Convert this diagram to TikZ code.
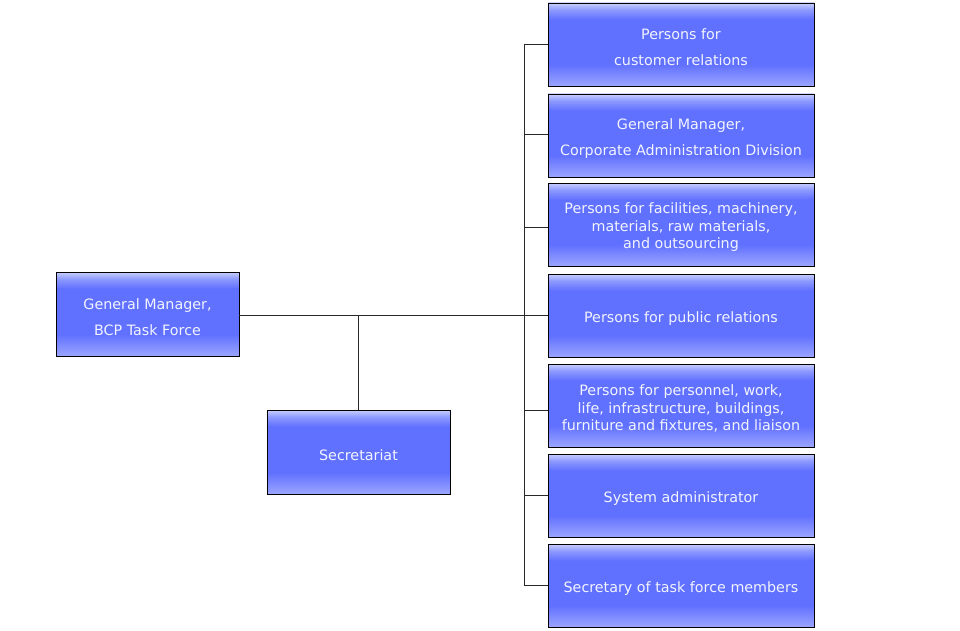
\documentclass[tikz,border=0pt]{standalone}
\usepackage{fontspec}
\setmainfont{DejaVu Sans}
\definecolor{boxmain}{RGB}{96,112,255}
\definecolor{boxtop}{RGB}{200,207,255}
\definecolor{boxbot}{RGB}{155,165,255}
\definecolor{linec}{RGB}{40,40,40}
\pgfdeclareverticalshading{boxshade}{100bp}{
  color(0bp)=(boxbot);
  color(25bp)=(boxbot);
  color(31bp)=(boxbot!55!boxmain);
  color(38bp)=(boxmain);
  color(65bp)=(boxmain);
  color(71bp)=(boxmain!55!boxtop);
  color(75bp)=(boxtop);
  color(100bp)=(boxtop)
}
\begin{document}
\begin{tikzpicture}[x=1pt,y=-1pt,
  orgbox/.style={draw=black, line width=0.8pt, shading=boxshade, rectangle, inner sep=0pt,
    minimum width=266pt, minimum height=83pt},
  lbl/.style={text=white!92!boxmain, font=\fontsize{14.3}{17.5}\selectfont, align=center, yshift=-3pt},
  widelbl/.style={lbl, font=\fontsize{14.3}{26}\selectfont},
  conn/.style={draw=linec, line width=0.7pt}]
\useasboundingbox (0,0) rectangle (960,631);
% right column
\node[orgbox, label={[widelbl]center:Persons for\\customer relations}] (r1) at (681,44.5) {};
\node[orgbox, label={[widelbl]center:General Manager,\\Corporate Administration Division}] (r2) at (681,135.5) {};
\node[orgbox, label={[lbl]center:Persons for facilities, machinery,\\materials, raw materials,\\and outsourcing}] (r3) at (681,224.5) {};
\node[orgbox, label={[lbl]center:Persons for public relations}] (r4) at (681,315.5) {};
\node[orgbox, label={[lbl]center:Persons for personnel, work,\\life, infrastructure, buildings,\\furniture and fixtures, and liaison}] (r5) at (681,405.5) {};
\node[orgbox, label={[lbl]center:System administrator}] (r6) at (681,495.5) {};
\node[orgbox, label={[lbl]center:Secretary of task force members}] (r7) at (681,585.5) {};
% left
\node[orgbox, minimum width=183pt, minimum height=84pt, label={[widelbl]center:General Manager,\\BCP Task Force}] (gm) at (147.5,314) {};
\node[orgbox, minimum width=183pt, minimum height=84pt, label={[lbl]center:Secretariat}] (sec) at (358.5,452) {};
% spine
\coordinate (top) at (524,44);
\coordinate (bot) at (524,585);
\draw[conn] (top) -- (bot);
\foreach \n/\yy in {r1/44,r2/134,r3/227,r4/315,r5/410,r6/495,r7/585}{
  \draw[conn] (524,\yy) -- (\n.west |- 0,\yy);
}
\draw[conn] (gm.east |- 0,315) -- (r4.west |- 0,315);
\coordinate (j) at (358,315);
\draw[conn] (j) -- (sec.north -| j);
\end{tikzpicture}
\end{document}
